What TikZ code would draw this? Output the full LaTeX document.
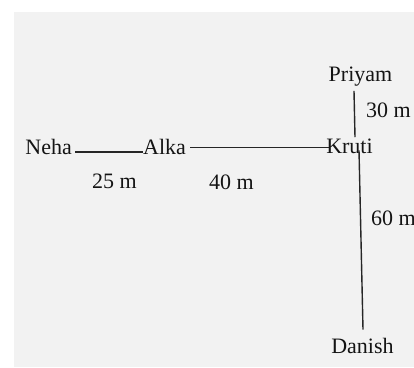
\documentclass[tikz,border=0pt]{standalone}
\usepackage{fontspec}
\setmainfont{Liberation Serif}
\begin{document}
\begin{tikzpicture}[x=1pt,y=-1pt,
  lbl/.style={inner sep=0pt,font=\fontsize{22}{26}\selectfont,text=black!92},
  seg/.style={draw=black!85,line width=1.4pt}]
\useasboundingbox (0,0) rectangle (414,367);
\fill[white] (0,0) rectangle (414,367);
\fill[black!5] (14,12) rectangle (414,367);
% places
\node[lbl,anchor=base east] (neha) at (72,154) {Neha};
\node[lbl,anchor=base west] (alka) at (143,154) {Alka};
\node[lbl,anchor=base] (kruti) at (349.5,153) {Kruti};
\node[lbl,anchor=base] (priyam) at (360.5,81) {Priyam};
\node[lbl,anchor=base] (danish) at (362.5,353) {Danish};
% distances
\node[lbl,anchor=base west] (d25) at (92,188) {25 m};
\node[lbl,anchor=base west] (d40) at (209,189) {40 m};
\node[lbl,anchor=base west] (d30) at (366,117) {30 m};
\node[lbl,anchor=base west] (d60) at (371,225) {60 m};
% connectors
\draw[seg] ([xshift=3pt,yshift=2pt]neha.base east) -- ([yshift=2pt]alka.base west);
\draw[seg] ([xshift=4pt,yshift=6.5pt]alka.base east) -- ([xshift=3pt,yshift=5.5pt]kruti.base west);
\draw[seg] ([xshift=-6.5pt,yshift=-5pt]priyam.south) -- ([xshift=5.5pt,yshift=1pt]kruti.north);
\draw[seg] ([xshift=9.5pt,yshift=3pt]kruti.south) -- ([xshift=0.5pt,yshift=8pt]danish.north);
\end{tikzpicture}
\end{document}
